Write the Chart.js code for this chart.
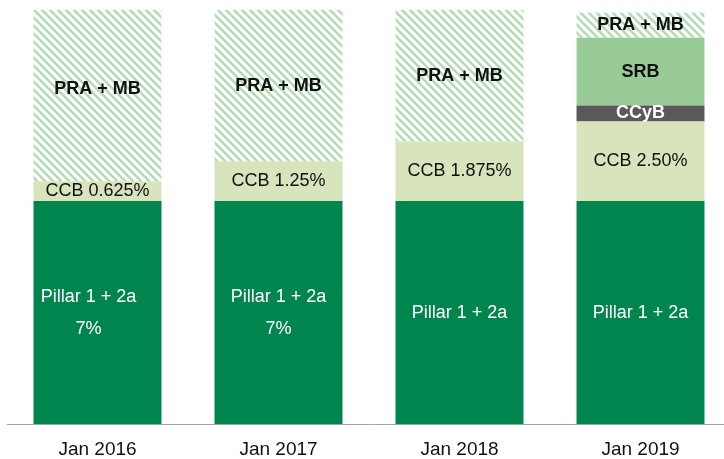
<!DOCTYPE html>
<html>
<head>
<meta charset="utf-8">
<script src="https://cdn.jsdelivr.net/npm/chart.js@4/dist/chart.umd.min.js"></script>
<style>
html,body{margin:0;padding:0;background:#fff;overflow:hidden;}
canvas{display:block;}
</style>
</head>
<body>
<canvas id="c" width="731" height="459"></canvas>
<script>
// ---- data ----
const categories = ['Jan 2016', 'Jan 2017', 'Jan 2018', 'Jan 2019'];
const pillarValues = [7, 7, 7, 7];
const ccbValues = [0.625, 1.25, 1.875, 2.5];
const ccybValues = [0, 0, 0, 0.5];
const srbValues = [0, 0, 0, 2.125];
const praMbValues = [5.375, 4.75, 4.125, 0.8];

const pillarLabels = ['Pillar 1 + 2a\n7%', 'Pillar 1 + 2a\n7%', 'Pillar 1 + 2a', 'Pillar 1 + 2a'];
const ccbLabels = ['CCB 0.625%', 'CCB 1.25%', 'CCB 1.875%', 'CCB 2.50%'];
const ccybLabels = ['', '', '', 'CCyB'];
const srbLabels = ['', '', '', 'SRB'];
const praMbLabels = ['PRA + MB', 'PRA + MB', 'PRA + MB', 'PRA + MB'];

const FONT = '"Liberation Sans", Arial, Helvetica, sans-serif';

function makeHatch() {
  const c = document.createElement('canvas');
  c.width = 8; c.height = 8;
  const g = c.getContext('2d');
  g.fillStyle = '#ffffff';
  g.fillRect(0, 0, 8, 8);
  g.strokeStyle = '#b4dcb4';
  g.lineWidth = 2.6;
  g.beginPath();
  g.moveTo(-2, -2); g.lineTo(10, 10);
  g.moveTo(-2, 6); g.lineTo(2, 10);
  g.moveTo(6, -2); g.lineTo(10, 2);
  g.stroke();
  return g.createPattern(c, 'repeat');
}

const segLabels = {
  id: 'segLabels',
  afterDatasetsDraw(chart, args, opts) {
    const ctx = chart.ctx;
    chart.data.datasets.forEach((ds, i) => {
      const meta = chart.getDatasetMeta(i);
      const st = ds.labelStyle;
      meta.data.forEach((bar, j) => {
        const txt = ds.segLabels[j];
        if (!txt) return;
        const nudge = (opts.nudge[i] && opts.nudge[i][j]) || [0, 0];
        const lines = txt.split('\n');
        const cx = bar.x + nudge[0];
        const cy = (bar.y + bar.base) / 2 + nudge[1];
        ctx.save();
        ctx.font = (st.bold ? 'bold ' : '') + '18px ' + FONT;
        ctx.fillStyle = st.color;
        ctx.textAlign = 'center';
        ctx.textBaseline = 'middle';
        const lh = 32;
        const y0 = cy - (lines.length - 1) * lh / 2;
        lines.forEach((l, k) => ctx.fillText(l, cx, y0 + k * lh));
        ctx.restore();
      });
    });
  }
};

const hatch = makeHatch();

new Chart(document.getElementById('c'), {
  type: 'bar',
  data: {
    labels: categories,
    datasets: [
      { label: 'Pillar 1 + 2a', data: pillarValues, backgroundColor: '#00854f', segLabels: pillarLabels, labelStyle: { color: '#ffffff', bold: false } },
      { label: 'CCB', data: ccbValues, backgroundColor: '#d8e4bc', segLabels: ccbLabels, labelStyle: { color: '#111111', bold: false } },
      { label: 'CCyB', data: ccybValues, backgroundColor: '#595959', segLabels: ccybLabels, labelStyle: { color: '#ffffff', bold: true } },
      { label: 'SRB', data: srbValues, backgroundColor: '#98cb96', segLabels: srbLabels, labelStyle: { color: '#111111', bold: true } },
      { label: 'PRA + MB', data: praMbValues, backgroundColor: hatch, segLabels: praMbLabels, labelStyle: { color: '#111111', bold: true } }
    ]
  },
  options: {
    responsive: false,
    animation: false,
    events: [],
    layout: { padding: { top: 10, left: 7, right: 0, bottom: -16 } },
    datasets: { bar: { categoryPercentage: 1, barPercentage: 0.707, borderWidth: 0 } },
    plugins: {
      legend: { display: false },
      tooltip: { enabled: false },
      segLabels: {
        nudge: {
          0: { 0: [-9, 0] },
          4: { 0: [0, -7] }
        }
      }
    },
    scales: {
      x: {
        stacked: true,
        grid: { display: false, drawTicks: false },
        border: { display: true, color: '#a6a6a6', width: 1 },
        ticks: { color: '#111111', font: { family: FONT, size: 19, lineHeight: 1 }, padding: 16 }
      },
      y: { stacked: true, display: false, min: 0, max: 13 }
    }
  },
  plugins: [segLabels]
});
</script>
</body>
</html>
